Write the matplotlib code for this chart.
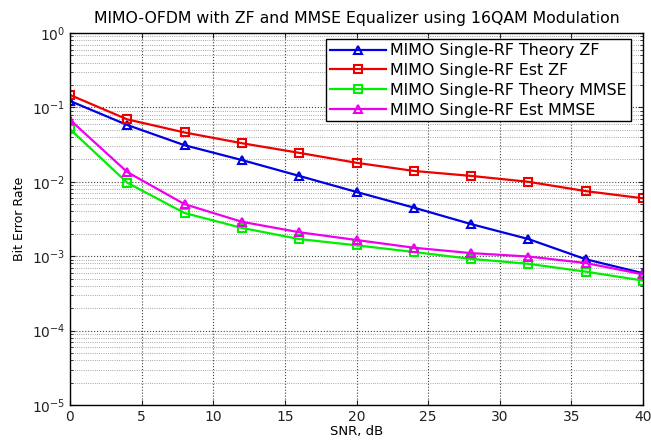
import matplotlib
matplotlib.use("Agg")
import matplotlib.pyplot as plt
from matplotlib.ticker import LogLocator, NullFormatter

plt.rcParams['font.family'] = ['DejaVu Sans']

snr = [0, 4, 8, 12, 16, 20, 24, 28, 32, 36, 40]
theory_zf = [0.122, 0.058, 0.031, 0.0196, 0.012, 0.0073, 0.0045, 0.0027, 0.0017, 0.00091, 0.00059]
est_zf = [0.147, 0.069, 0.046, 0.033, 0.0245, 0.018, 0.014, 0.012, 0.010, 0.0075, 0.0060]
theory_mmse = [0.051, 0.0097, 0.0038, 0.0024, 0.0017, 0.0014, 0.00114, 0.00092, 0.00079, 0.00062, 0.00047]
est_mmse = [0.068, 0.0135, 0.005, 0.0029, 0.0021, 0.00165, 0.0013, 0.0011, 0.00099, 0.00081, 0.00057]
labels = ['MIMO Single-RF Theory ZF', 'MIMO Single-RF Est ZF',
          'MIMO Single-RF Theory MMSE', 'MIMO Single-RF Est MMSE']

fig = plt.figure(figsize=(6.51, 4.48), dpi=100)
ax = fig.add_axes([70/651, 43/448, 573/651, 372/448])

ax.semilogy(snr, theory_zf, '-^', color='#0000e0', lw=1.6, ms=5.5, mfc='none', mew=1.5, label=labels[0])
ax.semilogy(snr, est_zf, '-s', color='#ee0000', lw=1.6, ms=6, mfc='none', mew=1.5, label=labels[1])
ax.semilogy(snr, theory_mmse, '-s', color='#00ee00', lw=1.6, ms=6, mfc='none', mew=1.5, label=labels[2])
ax.semilogy(snr, est_mmse, '-^', color='#ee00ee', lw=1.6, ms=5.5, mfc='none', mew=1.5, label=labels[3])

ax.set_xlim(0, 40)
ax.set_ylim(1e-5, 1)
ax.set_xticks(range(0, 41, 5))
ax.yaxis.set_major_locator(LogLocator(base=10, numticks=10))
ax.yaxis.set_minor_locator(LogLocator(base=10, subs=range(2, 10), numticks=20))
ax.yaxis.set_minor_formatter(NullFormatter())
ax.grid(True, which='major', linestyle=':', color='#444444', lw=0.8)
ax.grid(True, which='minor', axis='y', linestyle=':', color='#888888', lw=0.6)
ax.tick_params(direction='in', which='both', top=True, right=True, labelsize=10, colors='#222222')
for s in ax.spines.values():
    s.set_linewidth(1.0)

ax.set_title('MIMO-OFDM with ZF and MMSE Equalizer using 16QAM Modulation', fontsize=11.3, pad=7)
ax.set_xlabel('SNR, dB', fontsize=9.5, labelpad=1)
ax.set_ylabel('Bit Error Rate', fontsize=9)

leg = ax.legend(loc='upper right', fontsize=11.4, fancybox=False, framealpha=1,
                edgecolor='black', borderpad=0.25, labelspacing=0.3, handlelength=3.5,
                handletextpad=0.3, borderaxespad=0.4, bbox_to_anchor=(0.99, 1.0))
leg.get_frame().set_linewidth(1.0)

fig.savefig('out.png', dpi=100)
